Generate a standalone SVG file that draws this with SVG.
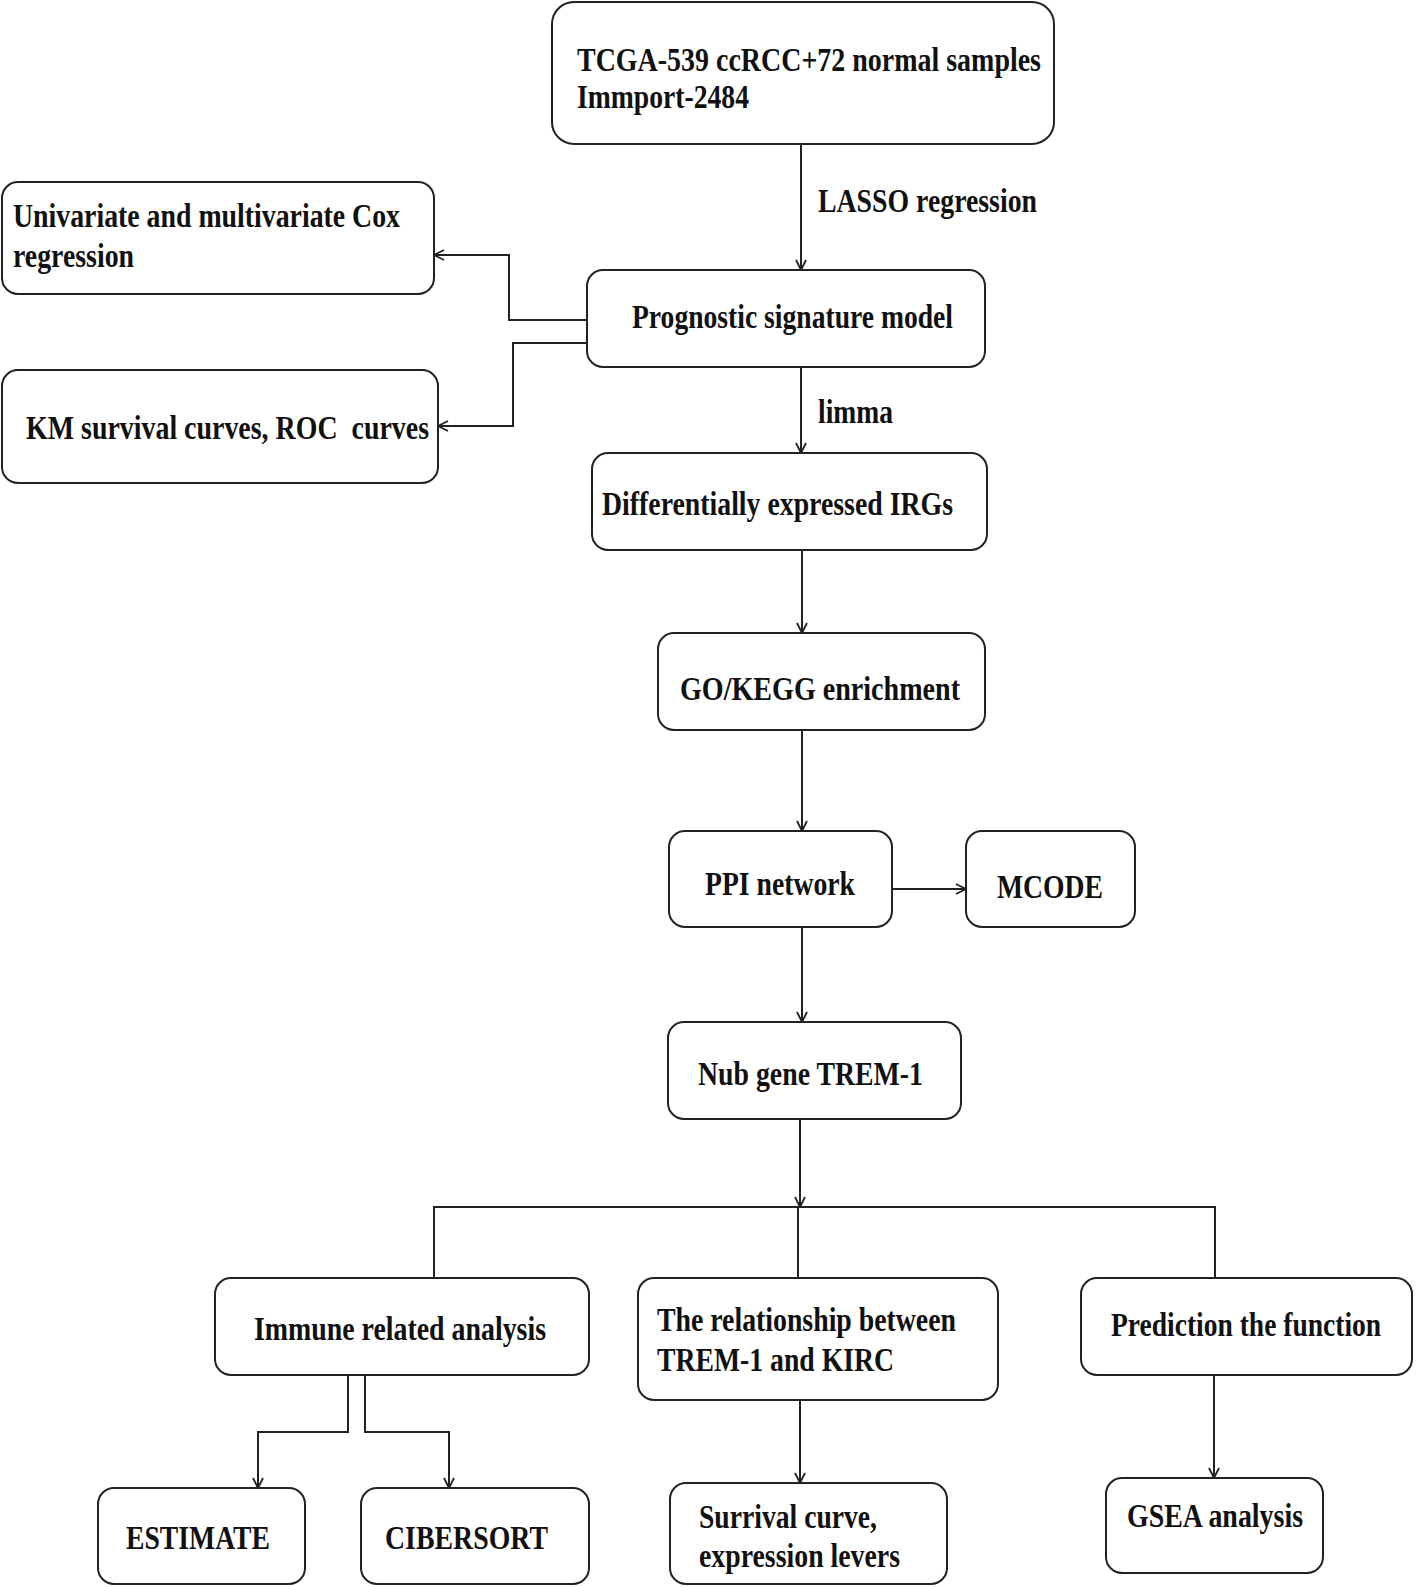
<svg xmlns="http://www.w3.org/2000/svg" width="1416" height="1587" viewBox="0 0 1416 1587">
<style>
.box{fill:#fff;stroke:#222;stroke-width:2}
.t{font-family:"Liberation Serif","Times New Roman",serif;font-weight:bold;font-size:34px;fill:#111}
.c{fill:none;stroke:#222;stroke-width:2}
</style>
<defs>
<marker id="arr" viewBox="0 0 12 12" refX="11" refY="6" markerWidth="12" markerHeight="12" markerUnits="userSpaceOnUse" orient="auto">
<path d="M1,1 L11,6 L1,11" fill="none" stroke="#222" stroke-width="1.8"/>
</marker>
</defs>
<rect width="1416" height="1587" fill="#fff"/>

<g id="connectors">
<path class="c" d="M801,144 V270" marker-end="url(#arr)"/>
<path class="c" d="M587,320 H509 V255 H434" marker-end="url(#arr)"/>
<path class="c" d="M587,343 H513 V426 H438" marker-end="url(#arr)"/>
<path class="c" d="M801,367 V453" marker-end="url(#arr)"/>
<path class="c" d="M802,550 V633" marker-end="url(#arr)"/>
<path class="c" d="M802,730 V831" marker-end="url(#arr)"/>
<path class="c" d="M892,889 H966" marker-end="url(#arr)"/>
<path class="c" d="M802,927 V1022" marker-end="url(#arr)"/>
<path class="c" d="M800,1119 V1207" marker-end="url(#arr)"/>
<path class="c" d="M434,1278 V1207 H1215 V1278"/>
<path class="c" d="M798,1207 V1278"/>
<path class="c" d="M348,1375 V1432 H258 V1488" marker-end="url(#arr)"/>
<path class="c" d="M365,1375 V1432 H449 V1488" marker-end="url(#arr)"/>
<path class="c" d="M800,1400 V1483" marker-end="url(#arr)"/>
<path class="c" d="M1214,1375 V1478" marker-end="url(#arr)"/>
<text class="t" x="818" y="212" textLength="219" lengthAdjust="spacingAndGlyphs">LASSO regression</text>
<text class="t" x="818" y="423" textLength="75" lengthAdjust="spacingAndGlyphs">limma</text>
</g>

<g id="tcga">
<rect class="box" x="552" y="2" width="502" height="142" rx="22"/>
<text class="t" x="577" y="71" textLength="464" lengthAdjust="spacingAndGlyphs">TCGA-539 ccRCC+72 normal samples</text>
<text class="t" x="577" y="108" textLength="172" lengthAdjust="spacingAndGlyphs">Immport-2484</text>
</g>

<g id="prognostic">
<rect class="box" x="587" y="270" width="398" height="97" rx="16"/>
<text class="t" x="632" y="328" textLength="321" lengthAdjust="spacingAndGlyphs">Prognostic signature model</text>
</g>

<g id="cox">
<rect class="box" x="2" y="182" width="432" height="112" rx="16"/>
<text class="t" x="13" y="227" textLength="387" lengthAdjust="spacingAndGlyphs">Univariate and multivariate Cox</text>
<text class="t" x="13" y="267" textLength="121" lengthAdjust="spacingAndGlyphs">regression</text>
</g>

<g id="km">
<rect class="box" x="2" y="370" width="436" height="113" rx="16"/>
<text class="t" x="26" y="439" textLength="403" lengthAdjust="spacingAndGlyphs" style="white-space:pre">KM survival curves, ROC  curves</text>
</g>

<g id="irgs">
<rect class="box" x="592" y="453" width="395" height="97" rx="16"/>
<text class="t" x="602" y="515" textLength="351" lengthAdjust="spacingAndGlyphs">Differentially expressed IRGs</text>
</g>

<g id="gokegg">
<rect class="box" x="658" y="633" width="327" height="97" rx="16"/>
<text class="t" x="680" y="700" textLength="280" lengthAdjust="spacingAndGlyphs">GO/KEGG enrichment</text>
</g>

<g id="ppi">
<rect class="box" x="669" y="831" width="223" height="96" rx="16"/>
<text class="t" x="705" y="895" textLength="150" lengthAdjust="spacingAndGlyphs">PPI network</text>
</g>

<g id="mcode">
<rect class="box" x="966" y="831" width="169" height="96" rx="16"/>
<text class="t" x="997" y="898" textLength="106" lengthAdjust="spacingAndGlyphs">MCODE</text>
</g>

<g id="trem1">
<rect class="box" x="668" y="1022" width="293" height="97" rx="16"/>
<text class="t" x="698" y="1085" textLength="225" lengthAdjust="spacingAndGlyphs">Nub gene TREM-1</text>
</g>

<g id="immune">
<rect class="box" x="215" y="1278" width="374" height="97" rx="16"/>
<text class="t" x="254" y="1340" textLength="292" lengthAdjust="spacingAndGlyphs">Immune related analysis</text>
</g>

<g id="relationship">
<rect class="box" x="638" y="1278" width="360" height="122" rx="16"/>
<text class="t" x="657" y="1331" textLength="299" lengthAdjust="spacingAndGlyphs">The relationship between</text>
<text class="t" x="657" y="1371" textLength="237" lengthAdjust="spacingAndGlyphs">TREM-1 and KIRC</text>
</g>

<g id="prediction">
<rect class="box" x="1081" y="1278" width="331" height="97" rx="16"/>
<text class="t" transform="translate(1111,1336) scale(0.81,1)" x="0" y="0">Prediction the function</text>
</g>

<g id="estimate">
<rect class="box" x="98" y="1488" width="207" height="96" rx="16"/>
<text class="t" x="126" y="1549" textLength="144" lengthAdjust="spacingAndGlyphs">ESTIMATE</text>
</g>

<g id="cibersort">
<rect class="box" x="361" y="1488" width="228" height="96" rx="16"/>
<text class="t" x="385" y="1549" textLength="163" lengthAdjust="spacingAndGlyphs">CIBERSORT</text>
</g>

<g id="survival">
<rect class="box" x="670" y="1483" width="277" height="101" rx="16"/>
<text class="t" x="699" y="1528" textLength="178" lengthAdjust="spacingAndGlyphs">Surrival curve,</text>
<text class="t" x="699" y="1567" textLength="201" lengthAdjust="spacingAndGlyphs">expression levers</text>
</g>

<g id="gsea">
<rect class="box" x="1106" y="1478" width="217" height="95" rx="16"/>
<text class="t" x="1127" y="1527" textLength="176" lengthAdjust="spacingAndGlyphs">GSEA analysis</text>
</g>
</svg>
